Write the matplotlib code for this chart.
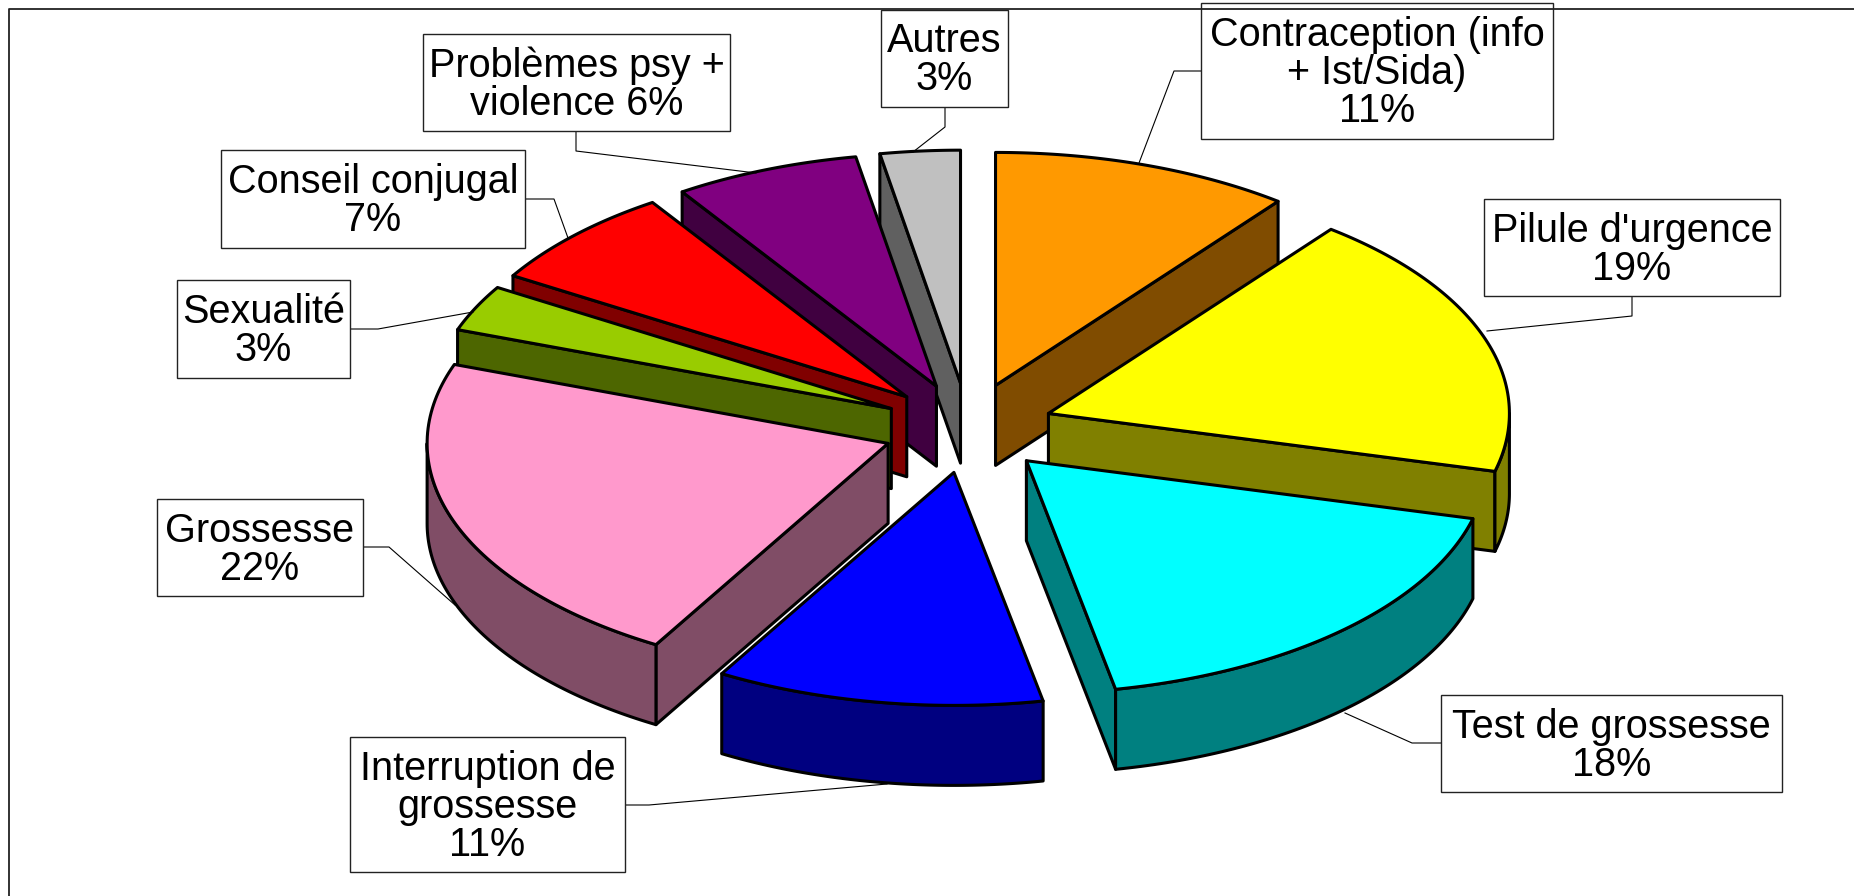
#! /usr/bin/env python3
"""
Exploded 3D style pie chart, drawn by hand with fills since matplotlib has no 3D pie.
"""

import numpy as np
import matplotlib
matplotlib.use("Agg")
import matplotlib.pyplot as plt
from matplotlib.patches import Rectangle

# Data (printed labels are the rounded values)
categories = ["Contraception (info\n+ Ist/Sida)", "Pilule d'urgence", "Test de grossesse",
              "Interruption de\ngrossesse", "Grossesse", "Sexualité", "Conseil conjugal",
              "Problèmes psy +\nviolence", "Autres"]
shares = [10.5, 18.5, 17.9, 11.5, 22.1, 3.2, 7.0, 6.5, 2.8]
printed_pct = [11, 19, 18, 11, 22, 3, 7, 6, 3]

top_colors = ["#FF9900", "#FFFF00", "#00FFFF", "#0000FF", "#FF99CC", "#99CC00", "#FF0000", "#800080", "#C0C0C0"]
side_colors = ["#804C00", "#808000", "#008080", "#000080", "#804D66", "#4D6600", "#800000", "#400040", "#606060"]

# Layout, in pixels of the output image
CX, CY = 968, 428
RX, RY = 461, 233
EX, EY = 85, 45
DEPTH = 80
EDGE_LW = 2.2

# label box (x0, y0, x1, y1) and leader line per category
boxes = [(1201, 3, 1553, 139), (1484, 199, 1780, 296), (1441, 695, 1782, 792),
         (350, 737, 625, 872), (157, 499, 363, 596), (177, 280, 350, 378),
         (221, 150, 525, 248), (423, 34, 730, 131), (881, 10, 1008, 107)]
leaders = [[(1201, 71), (1174, 71), (1139, 163)],
           [(1632, 296), (1632, 316), (1487, 331)],
           [(1441, 743), (1412, 743), (1345, 713)],
           [(625, 805), (649, 805), (887, 784)],
           [(363, 547), (389, 547), (455, 605)],
           [(350, 329), (378, 329), (473, 312)],
           [(525, 199), (554, 199), (568, 238)],
           [(576, 131), (576, 151), (756, 173)],
           [(945, 107), (945, 127), (913, 152)]]


def arc_points(start, end, dx, dy):
    t = np.radians(np.linspace(start, end, 80))
    return dx + RX * np.sin(t), dy - RY * np.cos(t)


def draw_slice(ax, start, end, top, side):
    mid = np.radians((start + end) / 2)
    ax_x = CX + EX * np.sin(mid)
    ax_y = CY - EY * np.cos(mid)
    style = dict(edgecolor="black", linewidth=EDGE_LW, joinstyle="round")

    # Radial wall: the end one shows on the right half, the start one on the left
    wall = end if end <= 180 else start
    if end <= 180 or start >= 180:
        wx = ax_x + RX * np.sin(np.radians(wall))
        wy = ax_y - RY * np.cos(np.radians(wall))
        ax.fill([ax_x, wx, wx, ax_x], [ax_y, wy, wy + DEPTH, ax_y + DEPTH], facecolor=side, **style)

    # Outer wall, only the part facing us
    a0, a1 = max(start, 90), min(end, 270)
    if a1 > a0:
        x, y = arc_points(a0, a1, ax_x, ax_y)
        ax.fill(np.r_[x, x[::-1]], np.r_[y, y[::-1] + DEPTH], facecolor=side, **style)

    # Top face
    x, y = arc_points(start, end, ax_x, ax_y)
    ax.fill(np.r_[ax_x, x], np.r_[ax_y, y], facecolor=top, **style)


fig = plt.figure(figsize=(18.54, 8.96), dpi=100)
ax = fig.add_axes([0, 0, 1, 1])
ax.set_xlim(0, 1854)
ax.set_ylim(896, 0)
ax.axis("off")

# Chart area border, only top and left fall inside the crop
ax.plot([9.5, 9.5, 1854], [896, 9.5, 9.5], color="#222222", linewidth=1.3, zorder=7)

for pts in leaders:
    xs, ys = zip(*pts)
    ax.plot(xs, ys, color="black", linewidth=0.8)

edges = np.r_[0, np.cumsum(shares)] / sum(shares) * 360
mids = (edges[:-1] + edges[1:]) / 2
# Back to front
for i in np.argsort(-np.cos(np.radians(mids))):
    draw_slice(ax, edges[i], edges[i + 1], top_colors[i], side_colors[i])

for name, pct, (x0, y0, x1, y1) in zip(categories, printed_pct, boxes):
    ax.add_patch(Rectangle((x0, y0), x1 - x0, y1 - y0, facecolor="white", edgecolor="#222222", linewidth=1.0, zorder=5))
    sep = " " if name.startswith("Problèmes") else "\n"
    ax.text((x0 + x1) / 2, (y0 + y1) / 2 + 2, f"{name}{sep}{pct}%", ha="center", va="center",
            fontsize=28.5, family="Liberation Sans", color="black", linespacing=1.0, zorder=6)

plt.savefig("out.png", dpi=100)
